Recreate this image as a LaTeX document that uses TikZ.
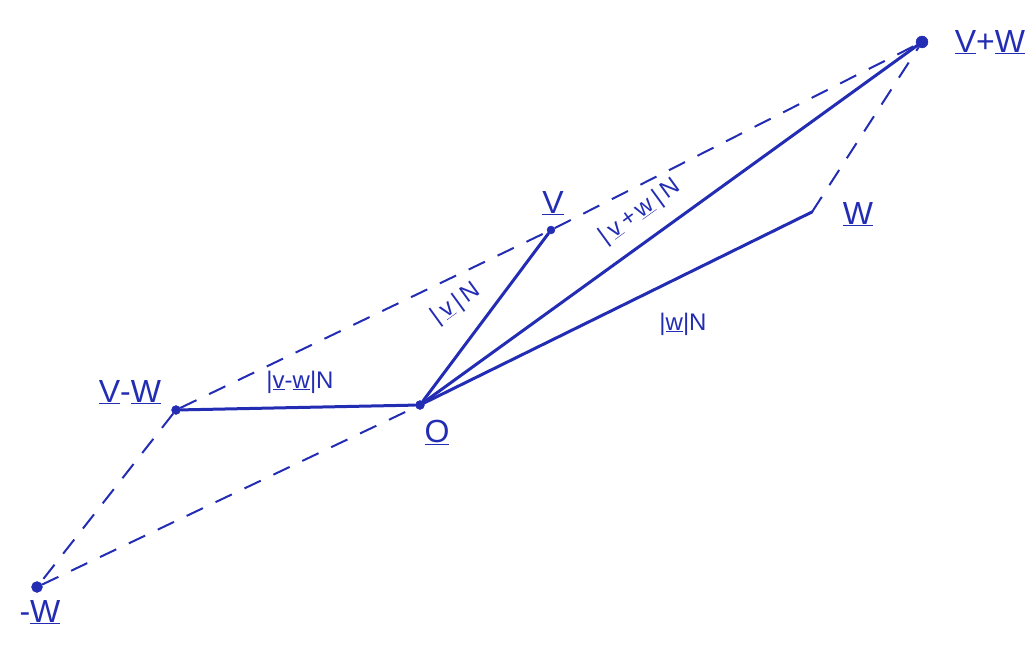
\documentclass[tikz,border=0pt]{standalone}
\usepackage{fontspec}
\setmainfont{Liberation Sans}
\definecolor{pen}{RGB}{35,45,180}
\tikzset{
  solidline/.style={draw=pen, line width=3pt, line cap=round},
  dashline/.style={draw=pen, line width=2pt, dash pattern=on 18pt off 14pt},
  dot/.style={circle, fill=pen, draw=pen, inner sep=0pt, minimum size=9pt},
  ptlabel/.style={text=pen, font=\fontsize{32}{34}\selectfont},
  edgelabel/.style={text=pen, font=\fontsize{24}{26}\selectfont, inner sep=1pt}
}
\begin{document}
\begin{tikzpicture}[x=1pt,y=-1pt]
\useasboundingbox (0,0) rectangle (1030,650);
\node[dot] (O) at (420,405) {};
\node[dot, minimum size=8pt] (V) at (551,230) {};
\coordinate (W) at (812,212);
\node[dot, minimum size=12pt] (VpW) at (922,42) {};
\node[dot] (VmW) at (176,410) {};
\node[dot, minimum size=11pt] (mW) at (37,587) {};

\draw[dashline] (VmW) -- (V);
\draw[dashline] (V) -- (VpW);
\draw[dashline] (W) -- (VpW);
\draw[dashline] (VmW) -- (mW);
\draw[dashline] (mW) -- (O);

\draw[solidline] (O) -- (V);
\draw[solidline] (O) -- (VpW);
\draw[solidline] (O) -- (W);
\draw[solidline] (O) -- (VmW);

\node[ptlabel] (lVpW) at (990,42) {\underline{V}+\underline{W}};
\node[ptlabel] (lV) at (553,203) {\underline{V}};
\node[ptlabel] (lW) at (858,214) {\underline{W}};
\node[ptlabel] (lVmW) at (130,392) {\underline{V}-\underline{W}};
\node[ptlabel] (lO) at (437,432) {\underline{O}};
\node[ptlabel] (lmW) at (40,612) {-\underline{W}};

\node[edgelabel, rotate=36] (eVpW) at (640,212) {|\,\underline{v}\,+\,\underline{w}\,|\,N};
\node[edgelabel, rotate=36] (eV) at (456,304) {|\,\underline{v}\,|\,N};
\node[edgelabel] (eW) at (683,324) {|\underline{w}|N};
\node[edgelabel] (eVmW) at (300,382) {|\underline{v}-\underline{w}|N};
\end{tikzpicture}
\end{document}
